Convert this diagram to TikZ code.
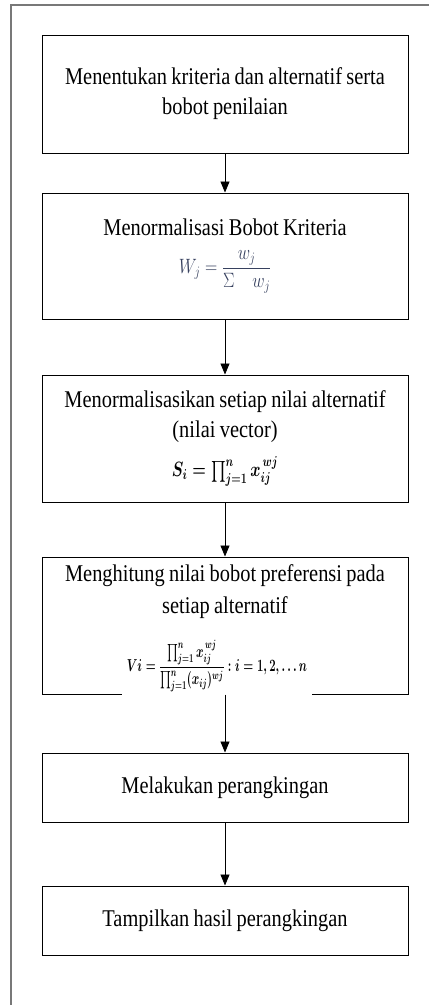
\documentclass[tikz,border=0pt]{standalone}
\usepackage[no-math]{fontspec}
\usepackage{amsmath}
\usepackage{graphicx}
\setmainfont{Liberation Serif}[FakeStretch=0.85, WordSpace=0.85]
\usetikzlibrary{positioning,arrows.meta}
\definecolor{framegray}{RGB}{120,120,120}
\definecolor{rumusblue}{RGB}{55,65,95}

\begin{document}
\begin{tikzpicture}[
  x=1pt, y=-1pt,
  every node/.style={font=\fontsize{24}{30}\selectfont},
  stepbox/.style={draw, line width=1pt, minimum width=366pt, text width=362pt, align=flush center, inner sep=0pt},
  rumusbox/.style={fill=white, inner xsep=3pt, inner ysep=3pt, font=\fontsize{18}{22}\selectfont},
  flowarrow/.style={-{Triangle[length=11pt,width=9pt]}, line width=0.8pt}
]
  \useasboundingbox (0,0) rectangle (429,1005);
  % bingkai luar
  \draw[framegray, line width=1.5pt] (11,1005) -- (11,5) -- (429,5);

  % langkah-langkah
  \node[stepbox, minimum height=118pt] (kriteria) at (225,94)
    {Menentukan kriteria dan alternatif serta\\ bobot penilaian};
  \node[stepbox, minimum height=126pt] (normbobot) at (225,256)
    {Menormalisasi Bobot Kriteria\\[8pt] {\color{rumusblue}\fontsize{22}{24}\selectfont
     \scalebox{0.82}[1]{$W_j=\dfrac{w_j}{\Sigma\quad w_j}$}}};
  \node[stepbox, minimum height=127pt] (normnilai) at (225,438.5)
    {Menormalisasikan setiap nilai alternatif\\[0pt] (nilai vector)\\[9pt] {\fontsize{20}{24}\selectfont
     \scalebox{0.75}[1]{\boldmath$S_i=\prod_{j=1}^{n}x_{ij}^{\,wj}$}}};
  \node[stepbox, minimum height=137pt] (preferensi) at (225,625.5)
    {Menghitung nilai bobot preferensi pada\\[2pt] setiap alternatif\\[42pt] \mbox{}};
  \node[stepbox, minimum height=69pt] (ranking) at (225,787.5) {Melakukan perangkingan};
  \node[stepbox, minimum height=69pt] (hasil) at (225,920.5) {Tampilkan hasil perangkingan};

  % rumus Vi menutup garis bawah kotak
  \node[rumusbox, minimum width=190pt, anchor=south, xshift=-8pt, yshift=-1pt] (rumusv) at (preferensi.south)
    {\scalebox{0.66}[1]{\boldmath$Vi=\dfrac{\prod\nolimits_{j=1}^{n}x_{ij}^{\,wj}}{\prod\nolimits_{j=1}^{n}(x_{ij})^{wj}}:i=1,2,\ldots n$}};

  % panah
  \draw[flowarrow] (kriteria) -- (normbobot);
  \draw[flowarrow] (normbobot) -- (normnilai);
  \draw[flowarrow] (normnilai) -- (preferensi);
  \draw[flowarrow] (preferensi.south) -- (ranking);
  \draw[flowarrow] (ranking) -- (hasil);
\end{tikzpicture}
\end{document}
